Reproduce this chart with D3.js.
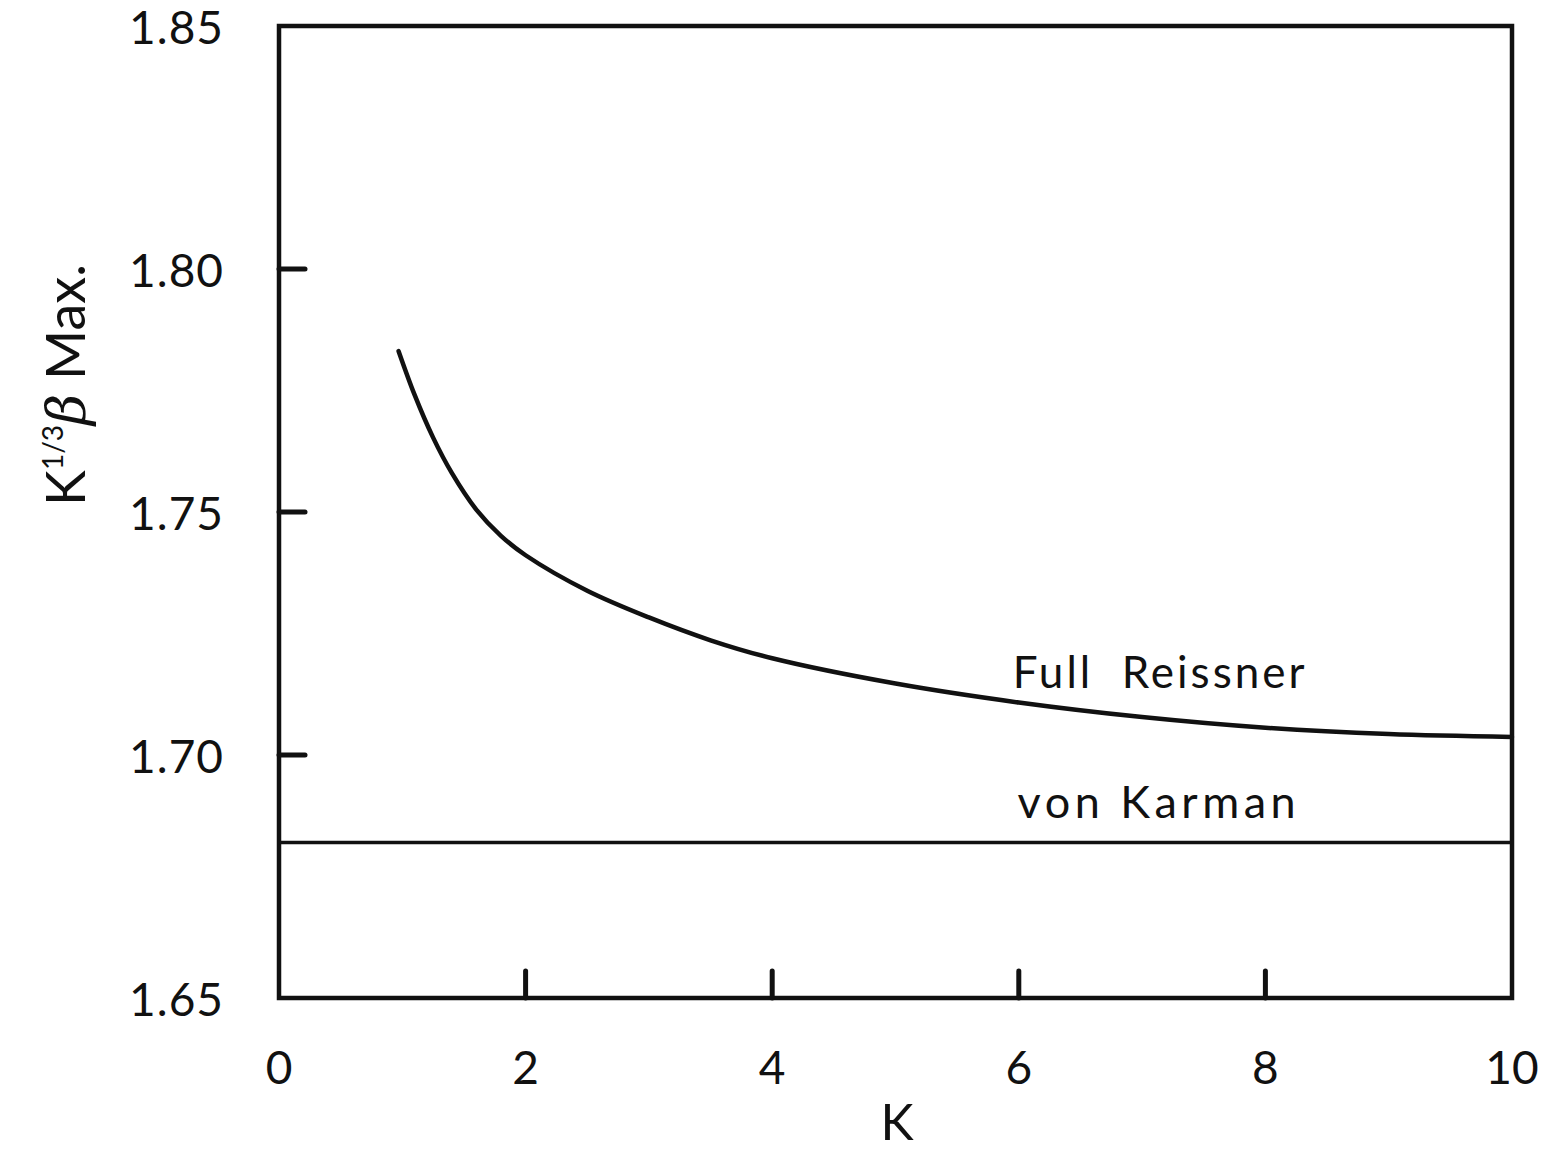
<!DOCTYPE html>
<html>
<head>
<meta charset="utf-8">
<script src="https://cdn.jsdelivr.net/npm/d3@7"></script>
<style>
  html, body { margin: 0; padding: 0; background: #fff; }
  svg { display: block; }
  text { font-family: Lato, "DejaVu Sans", sans-serif; fill: #111; }
</style>
</head>
<body>
<script>
// ---- Data ----
const kValues = [0.97, 1.1, 1.25, 1.4, 1.6, 1.8, 2.0, 2.5, 3.0, 3.5, 4.0, 5.0, 6.0, 7.0, 8.0, 9.0, 10.0];
const reissnerValues = [1.7831, 1.7741, 1.7653, 1.7581, 1.7505, 1.7451, 1.7411, 1.7338, 1.7283, 1.7236, 1.7199, 1.7147, 1.7108, 1.7078, 1.7056, 1.7043, 1.7037];
const vonKarmanValue = 1.682;
const xTickValues = [0, 2, 4, 6, 8, 10];
const xTickLabels = ["0", "2", "4", "6", "8", "10"];
const yTickValues = [1.65, 1.70, 1.75, 1.80, 1.85];
const yTickLabels = ["1.65", "1.70", "1.75", "1.80", "1.85"];
const seriesLabels = ["Full  Reissner", "von Karman"];
const xDomain = [0, 10];
const yDomain = [1.65, 1.85];

// ---- Layout ----
const W = 1547, H = 1150;
const svg = d3.select("body").append("svg").attr("width", W).attr("height", H);

const x = d3.scaleLinear().domain(xDomain).range([279, 1512]);
const y = d3.scaleLinear().domain(yDomain).range([998, 26]);
const ink = "#111";

// Frame
svg.append("rect")
  .attr("x", x(0)).attr("y", y(1.85))
  .attr("width", x(10) - x(0)).attr("height", y(1.65) - y(1.85))
  .attr("fill", "none").attr("stroke", ink).attr("stroke-width", 4.5);

// Inward ticks (y)
svg.append("g").selectAll("line")
  .data(yTickValues.filter(v => v > 1.65 + 1e-9 && v < 1.85 - 1e-9))
  .join("line")
  .attr("x1", x(0)).attr("x2", x(0) + 26)
  .attr("y1", d => y(d)).attr("y2", d => y(d))
  .attr("stroke", ink).attr("stroke-width", 5).attr("stroke-linecap", "round");

// Inward ticks (x)
svg.append("g").selectAll("line")
  .data(xTickValues.filter(v => v > 0 && v < 10))
  .join("line")
  .attr("x1", d => x(d)).attr("x2", d => x(d))
  .attr("y1", y(1.65)).attr("y2", y(1.65) - 27)
  .attr("stroke", ink).attr("stroke-width", 5).attr("stroke-linecap", "round");

// Y tick labels
svg.append("g").selectAll("text")
  .data(yTickValues)
  .join("text")
  .attr("x", 224).attr("y", d => y(d))
  .attr("text-anchor", "end").attr("dominant-baseline", "central")
  .attr("font-size", 46).attr("letter-spacing", 1)
  .text((d, i) => yTickLabels[i]);

// X tick labels
svg.append("g").selectAll("text")
  .data(xTickValues)
  .join("text")
  .attr("x", d => x(d)).attr("y", 1084)
  .attr("text-anchor", "middle")
  .attr("font-size", 46)
  .text((d, i) => xTickLabels[i]);

// X axis title
svg.append("text")
  .attr("x", 897).attr("y", 1140)
  .attr("text-anchor", "middle").attr("font-size", 50)
  .text("K");

// Y axis title (rotated)
const yt = svg.append("text")
  .attr("transform", "translate(85,385) rotate(-90)")
  .attr("text-anchor", "middle").attr("font-size", 54);
yt.append("tspan").text("K");
yt.append("tspan").attr("font-size", 28).attr("dy", -22).text("1/3");
yt.append("tspan").attr("dy", 22).attr("font-style", "italic").attr("font-family", "'DejaVu Serif', serif").text("β");
yt.append("tspan").text(" Max.");

// Full Reissner curve
const pts = kValues.map((k, i) => [k, reissnerValues[i]]);
svg.append("path")
  .datum(pts)
  .attr("d", d3.line().x(d => x(d[0])).y(d => y(d[1])).curve(d3.curveCatmullRom.alpha(0.5)))
  .attr("fill", "none").attr("stroke", ink).attr("stroke-width", 4.5)
  .attr("stroke-linecap", "round");

// von Karman line
svg.append("line")
  .attr("x1", x(0)).attr("x2", x(10))
  .attr("y1", y(vonKarmanValue)).attr("y2", y(vonKarmanValue))
  .attr("stroke", ink).attr("stroke-width", 3.5);

// Series labels
svg.append("text")
  .attr("x", x(5.95)).attr("y", y(1.7137))
  .attr("font-size", 44).attr("letter-spacing", 3)
  .style("white-space", "pre")
  .text(seriesLabels[0]);
svg.append("text")
  .attr("x", x(5.99)).attr("y", y(1.687))
  .attr("font-size", 45).attr("letter-spacing", 4.5)
  .text(seriesLabels[1]);
</script>
</body>
</html>
